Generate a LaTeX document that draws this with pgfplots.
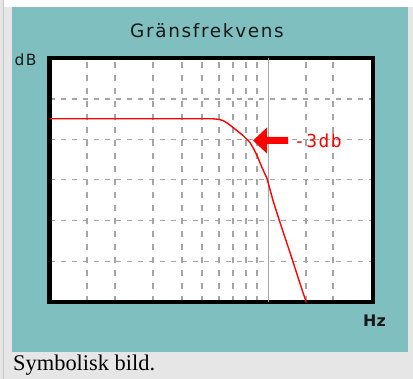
\documentclass[border=0pt]{standalone}
\usepackage{fontspec}
\setmainfont{Liberation Serif}
\newfontfamily\pixfont[LetterSpace=9]{DejaVu Sans}
\newfontfamily\pixmono[LetterSpace=8]{DejaVu Sans Mono}
\newfontfamily\plainsans{DejaVu Sans}
\usepackage{pgfplots}
\pgfplotsset{compat=1.18}

\definecolor{panel}{RGB}{128,191,191}
\definecolor{pagegray}{RGB}{230,230,230}
\definecolor{rulegray}{RGB}{200,200,200}
\definecolor{gridgray}{RGB}{165,165,165}

% response curve, x and y in picture units (1 unit = 1bp, y from the bottom)
\pgfplotstableread{
x y
49.5 259.7
213 259.7
218 259.2
223 258
228 255
233 251
238 247
243 243
246.5 239.5
250 236
253.5 230
257 223
259.5 217
262 211
264.5 205.5
267 200
270 189
273 178
280 156
290 126
300 95
306 77
306.3 76
}\lowpass

\begin{document}
\begin{tikzpicture}[x=1bp,y=1bp]
% page and panel backdrop
\fill[pagegray] (0,0) rectangle (413,378);
\fill[white] (4,371) rectangle (413,378);
\fill[panel] (12,26) rectangle (408,371);
\draw[rulegray, line width=1bp] (3.5,0) -- (3.5,378);

\node[anchor=base, inner sep=0, font=\pixfont\fontsize{18.5}{18.5}\selectfont, text=black!90] at (207,341) {Gränsfrekvens};
\node[anchor=base west, inner sep=0, font=\pixfont\fontsize{15.5}{15.5}\selectfont, text=black!90] at (14.5,313) {dB};
\node[anchor=base west, inner sep=0, font=\plainsans\bfseries\fontsize{16}{16}\selectfont, text=black!90] at (363,52) {Hz};
\node[anchor=base west, inner sep=0, font=\fontsize{22.5}{22.5}\selectfont] at (13,8) {Symbolisk bild.};

\begin{axis}[
  at={(49.5bp,76bp)}, anchor=south west,
  scale only axis, width=323bp, height=244bp,
  xmin=49.5, xmax=372.5, ymin=76, ymax=320,
  axis background/.style={fill=white},
  axis line style={line width=4bp, black},
  xtick={87,115,153,182,202,219,233,246,257,306,333},
  ytick={117,158,199,239,279.5},
  xticklabels={}, yticklabels={},
  major tick length=0pt, tick style={draw=none},
  grid=major,
  major grid style={gridgray, line width=1.1bp},
  x grid style={dash pattern=on 6bp off 7bp},
  y grid style={dash pattern=on 5bp off 6bp},
  clip=true,
]
\addplot[gridgray, line width=1bp] coordinates {(268,76) (268,320)};
\addplot[red, line width=1.4bp] table[x=x, y=y] {\lowpass};
\fill[red] (axis cs:253,238) -- (axis cs:267,251) -- (axis cs:267,241.5)
  -- (axis cs:288,241.5) -- (axis cs:288,234.5) -- (axis cs:267,234.5)
  -- (axis cs:267,225) -- cycle;
\node[anchor=west, inner sep=0, text=red, font=\pixmono\fontsize{18}{18}\selectfont] at (axis cs:294,237.5) {-3db};
\end{axis}
\end{tikzpicture}
\end{document}
